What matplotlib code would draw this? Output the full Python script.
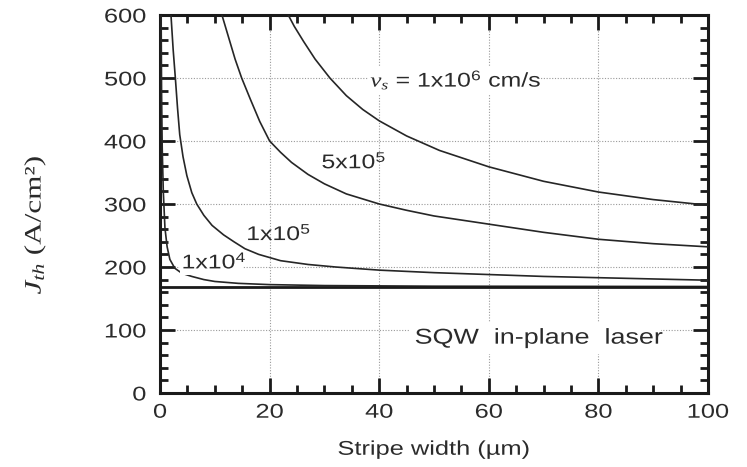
import numpy as np
import matplotlib
matplotlib.use('Agg')
import matplotlib.pyplot as plt
import matplotlib.patheffects as pe
from matplotlib.transforms import Affine2D
from matplotlib.ticker import MultipleLocator

plt.rcParams['font.family'] = ['Liberation Sans', 'DejaVu Sans']
plt.rcParams['mathtext.fontset'] = 'custom'
plt.rcParams['mathtext.rm'] = 'Liberation Sans'
plt.rcParams['mathtext.it'] = 'Liberation Serif:italic'

# values: stripe width (um) vs Jth (A/cm2)
w_1e6 = [23.4, 24.5, 26.2, 28.3, 31.0, 34.0, 37.0, 40.0, 45.0, 51.0, 60.0, 70.0, 80.0, 90.0, 100.0]
j_1e6 = [600, 582, 558, 530, 500, 472, 450, 432, 408, 385, 359, 336, 319, 307, 298]

w_5e5 = [11.3, 12.5, 13.7, 14.9, 16.5, 18.2, 20.0, 22.0, 24.0, 27.0, 30.0, 34.0, 40.0, 45.0, 50.0,
         60.0, 70.0, 80.0, 90.0, 100.0]
j_5e5 = [600, 565, 530, 500, 466, 431, 400, 382, 366, 347, 332, 316, 300, 290, 281,
         268, 255, 244, 237, 232]

w_1e5 = [2.0, 2.4, 2.8, 3.2, 3.6, 4.2, 4.9, 5.8, 6.7, 8.0, 9.5, 11.6, 13.5, 15.5, 18.0, 22.0,
         27.0, 32.0, 40.0, 50.0, 60.0, 70.0, 80.0, 90.0, 100.0]
j_1e5 = [600, 545, 500, 452, 410, 375, 345, 318, 300, 282, 266, 251, 240, 229, 220, 210,
         204, 200, 195, 191, 188, 185, 183, 181, 179]

w_1e4 = [0.2, 0.28, 0.4, 0.6, 0.9, 1.3, 1.8, 2.7, 4.0, 5.8, 8.0, 10.0, 14.3, 20.0, 30.0, 50.0, 100.0]
j_1e4 = [600, 480, 390, 320, 262, 232, 212, 198, 190, 185, 180, 177, 174, 172, 170.5, 169.5, 169]

j_inf = 168  # SQW limit (infinite stripe)


# the original lettering is wider than Liberation Sans, stretch glyphs along the text line
class Stretch(pe.AbstractPathEffect):
    def __init__(self, sx=1.27, anchor='left'):
        super().__init__()
        self.sx = sx
        self.anchor = anchor

    def draw_path(self, renderer, gc, tpath, affine, rgbFace=None):
        ext = tpath.get_extents()
        cx = {'left': ext.x0, 'center': 0.5 * (ext.x0 + ext.x1), 'right': ext.x1}[self.anchor]
        t = Affine2D().translate(-cx, 0).scale(self.sx, 1).translate(cx, 0) + affine
        renderer.draw_path(gc, tpath, t, rgbFace)


fig = plt.figure(figsize=(7.47, 4.67), dpi=100)
ax = fig.add_axes([0.2142, 0.1585, 0.7336, 0.8094])

ax.grid(True, which='major', linestyle=(0, (1, 1.5)), color='#9a9a9a', linewidth=0.8, zorder=0)

for w, j in [(w_1e6, j_1e6), (w_5e5, j_5e5), (w_1e5, j_1e5), (w_1e4, j_1e4)]:
    ax.plot(w, j, color='#262626', linewidth=1.2, zorder=3)
ax.axhline(j_inf, color='#1a1a1a', linewidth=2.0, zorder=3)

ax.set_xlim(0, 100)
ax.set_ylim(0, 600)
ax.xaxis.set_major_locator(MultipleLocator(20))
ax.xaxis.set_minor_locator(MultipleLocator(5))
ax.yaxis.set_major_locator(MultipleLocator(100))
ax.yaxis.set_minor_locator(MultipleLocator(20))
ax.tick_params(which='both', direction='in', top=True, right=True, width=2, color='#1a1a1a')
ax.tick_params(which='major', length=11, labelsize=14.3, labelcolor='#2b2b2b')
ax.tick_params(which='minor', length=6)
ax.tick_params(axis='x', which='major', pad=7)
ax.tick_params(axis='y', which='major', pad=10)
for s in ax.spines.values():
    s.set_linewidth(2.2)
    s.set_color('#1a1a1a')

xl = ax.set_xlabel('Stripe width (µm)', fontsize=14.3, color='#2b2b2b', labelpad=13)
xl.set_path_effects([Stretch(1.28, 'center')])
yl = ax.set_ylabel('$J_{th}$ (A/cm²)', fontsize=17, family='Liberation Serif', color='#2b2b2b')
yl.set_path_effects([Stretch(1.32, 'center')])
ax.yaxis.set_label_coords(-0.205, 0.445)

# trailing spaces widen the white boxes to the stretched glyph width
box = dict(facecolor='white', edgecolor='none', pad=1.5)
labels = [
    ax.text(38.4, 497, '$v_s$ = 1x10$^6$ cm/s' + '\u00a0' * 6, fontsize=14.3, va='center', bbox=box),
    ax.text(29.5, 367, '5x10$^5$', fontsize=14.3, va='center'),
    ax.text(15.8, 253, '1x10$^5$', fontsize=14.3, va='center'),
    ax.text(4.0, 208, '1x10$^4$' + '\u00a0' * 2, fontsize=14.3, va='center', bbox=box),
    ax.text(46.5, 87, 'SQW  in-plane  laser' + '\u00a0' * 7, fontsize=15.5, va='center',
            bbox=dict(facecolor='white', edgecolor='none', pad=4)),
]
for t in labels:
    t.set_color('#2b2b2b')
    t.set_zorder(4)
    t.set_path_effects([Stretch(1.25, 'left')])

fig.canvas.draw()
for lbl in ax.get_xticklabels():
    lbl.set_path_effects([Stretch(1.28, 'center')])
for lbl in ax.get_yticklabels():
    lbl.set_path_effects([Stretch(1.28, 'right')])

fig.savefig('out.png', dpi=100)
